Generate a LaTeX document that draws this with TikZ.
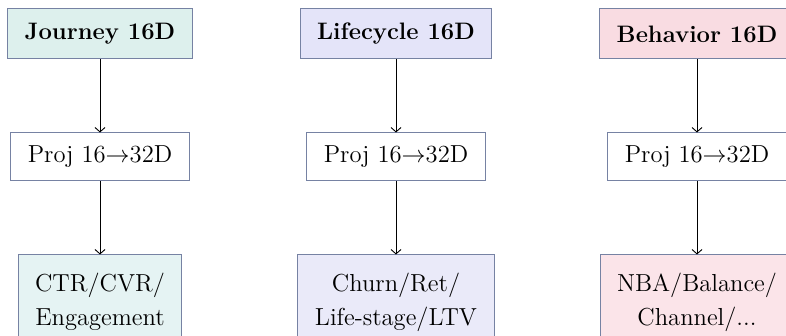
\documentclass[tikz,border=0pt]{standalone}
\usepackage{tikz}
\usetikzlibrary{arrows.meta,positioning}
\definecolor{edgeGray}{HTML}{7682A3}
\definecolor{journeyTop}{HTML}{DDF0ED}
\definecolor{journeyOut}{HTML}{E5F3F3}
\definecolor{lifeTop}{HTML}{E4E4F9}
\definecolor{lifeOut}{HTML}{EAEAF9}
\definecolor{behavTop}{HTML}{F9DCE2}
\definecolor{behavOut}{HTML}{FBE4E9}

\begin{document}
\begin{tikzpicture}[node distance=36.5pt,
    dimbox/.style={draw=edgeGray,line width=0.5pt,inner xsep=8.5pt,minimum height=25pt,font=\fontsize{11.9}{17}\selectfont\bfseries},
    projbox/.style={draw=edgeGray,line width=0.5pt,fill=white,inner xsep=8.5pt,minimum height=24pt,font=\fontsize{12.3}{17}\selectfont},
    taskbox/.style={draw=edgeGray,line width=0.5pt,align=center,inner xsep=8.5pt,inner ysep=9pt,font=\fontsize{12.3}{17}\selectfont},
    flow/.style={-{Straight Barb[length=2.2pt,width=5pt]},line width=0.45pt}]
      \useasboundingbox (0,0) rectangle (393pt,168pt);
      \node[dimbox,fill=journeyTop] (journey) at (50pt,151pt) {Journey 16D};
      \node[dimbox,fill=lifeTop] (lifecycle) at (198pt,151pt) {Lifecycle 16D};
      \node[dimbox,fill=behavTop] (behavior) at (348.5pt,151pt) {Behavior 16D};
      \node[projbox,below=of journey] (jproj) {Proj 16$\rightarrow$32D};
      \node[projbox,below=of lifecycle] (lproj) {Proj 16$\rightarrow$32D};
      \node[projbox,below=of behavior] (bproj) {Proj 16$\rightarrow$32D};
      \node[taskbox,fill=journeyOut,below=of jproj] (jtask) {CTR/CVR/\\Engagement};
      \node[taskbox,fill=lifeOut,below=of lproj] (ltask) {Churn/Ret/\\Life-stage/LTV};
      \node[taskbox,fill=behavOut,below=of bproj] (btask) {NBA/Balance/\\Channel/...};
      \draw[flow] (journey) -- (jproj);
      \draw[flow] (jproj) -- (jtask);
      \draw[flow] (lifecycle) -- (lproj);
      \draw[flow] (lproj) -- (ltask);
      \draw[flow] (behavior) -- (bproj);
      \draw[flow] (bproj) -- (btask);
    \end{tikzpicture}
\end{document}
